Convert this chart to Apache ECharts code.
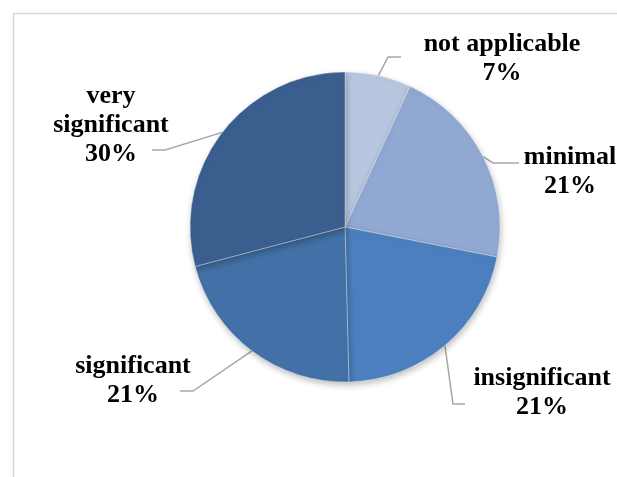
<!DOCTYPE html>
<html>
<head>
<meta charset="utf-8">
<script src="https://cdn.jsdelivr.net/npm/echarts@6/dist/echarts.min.js"></script>
<style>
html,body{margin:0;padding:0;background:#fff;}
#main{width:617px;height:477px;}
</style>
</head>
<body>
<div id="main"></div>
<script>
const categories = ['not applicable', 'minimal', 'insignificant', 'significant', 'very significant'];
const values = [6.9, 21.2, 21.5, 21.3, 29.1];
// percentages as printed on the labels
const pctLabels = ['7%', '21%', '21%', '21%', '30%'];
const colors = ['#b9c6e0', '#91a8d2', '#4c7fbe', '#4371a7', '#3a5f8f'];
const labelText = ['not applicable', 'minimal', 'insignificant', 'significant', 'very\nsignificant'];
// label block centers and leader-line elbow/end points
const labelPos = [[502, 59], [570, 172], [542, 393], [133, 381], [111, 125]];
const leaderPts = [
  [[388, 57], [401, 57]],
  [[493, 163], [519, 163]],
  [[453, 404], [465, 404]],
  [[193, 391], [180, 391]],
  [[165, 150], [152, 150]]
];

const chart = echarts.init(document.getElementById('main'), null, {renderer: 'canvas'});
const cx = 345, cy = 227, r = 155;
const data = categories.map((c, i) => ({name: c, value: values[i], itemStyle: {color: colors[i]}}));

chart.setOption({
  animation: false,
  backgroundColor: '#fff',
  graphic: [{
    type: 'rect', silent: true, z: -1,
    shape: {x: 13.5, y: 13.5, width: 800, height: 800},
    style: {fill: 'none', stroke: '#d9d9d9', lineWidth: 1.5}
  }],
  series: [{
    type: 'pie',
    center: [cx, cy],
    radius: [0, r],
    startAngle: 90,
    clockwise: true,
    data: data,
    itemStyle: {
      borderColor: 'rgba(255,255,255,0.35)', borderWidth: 1,
      shadowBlur: 6, shadowColor: 'rgba(0,0,0,0.25)', shadowOffsetX: 1, shadowOffsetY: 3
    },
    label: {
      show: true,
      position: 'outside',
      formatter: p => labelText[p.dataIndex] + '\n' + pctLabels[p.dataIndex],
      fontFamily: '"Liberation Serif", "Times New Roman", serif',
      fontWeight: 'bold',
      fontSize: 26,
      lineHeight: 29,
      color: '#000',
      align: 'center'
    },
    labelLine: {
      show: true, length: 10, length2: 10,
      lineStyle: {color: '#a6a6a6', width: 1.5}
    },
    labelLayout: function (params) {
      const i = params.dataIndex;
      const start = params.labelLinePoints ? params.labelLinePoints[0] : [cx, cy];
      return {
        x: labelPos[i][0],
        y: labelPos[i][1],
        align: 'center',
        verticalAlign: 'middle',
        labelLinePoints: [start, leaderPts[i][0], leaderPts[i][1]]
      };
    }
  }]
});
</script>
</body>
</html>
